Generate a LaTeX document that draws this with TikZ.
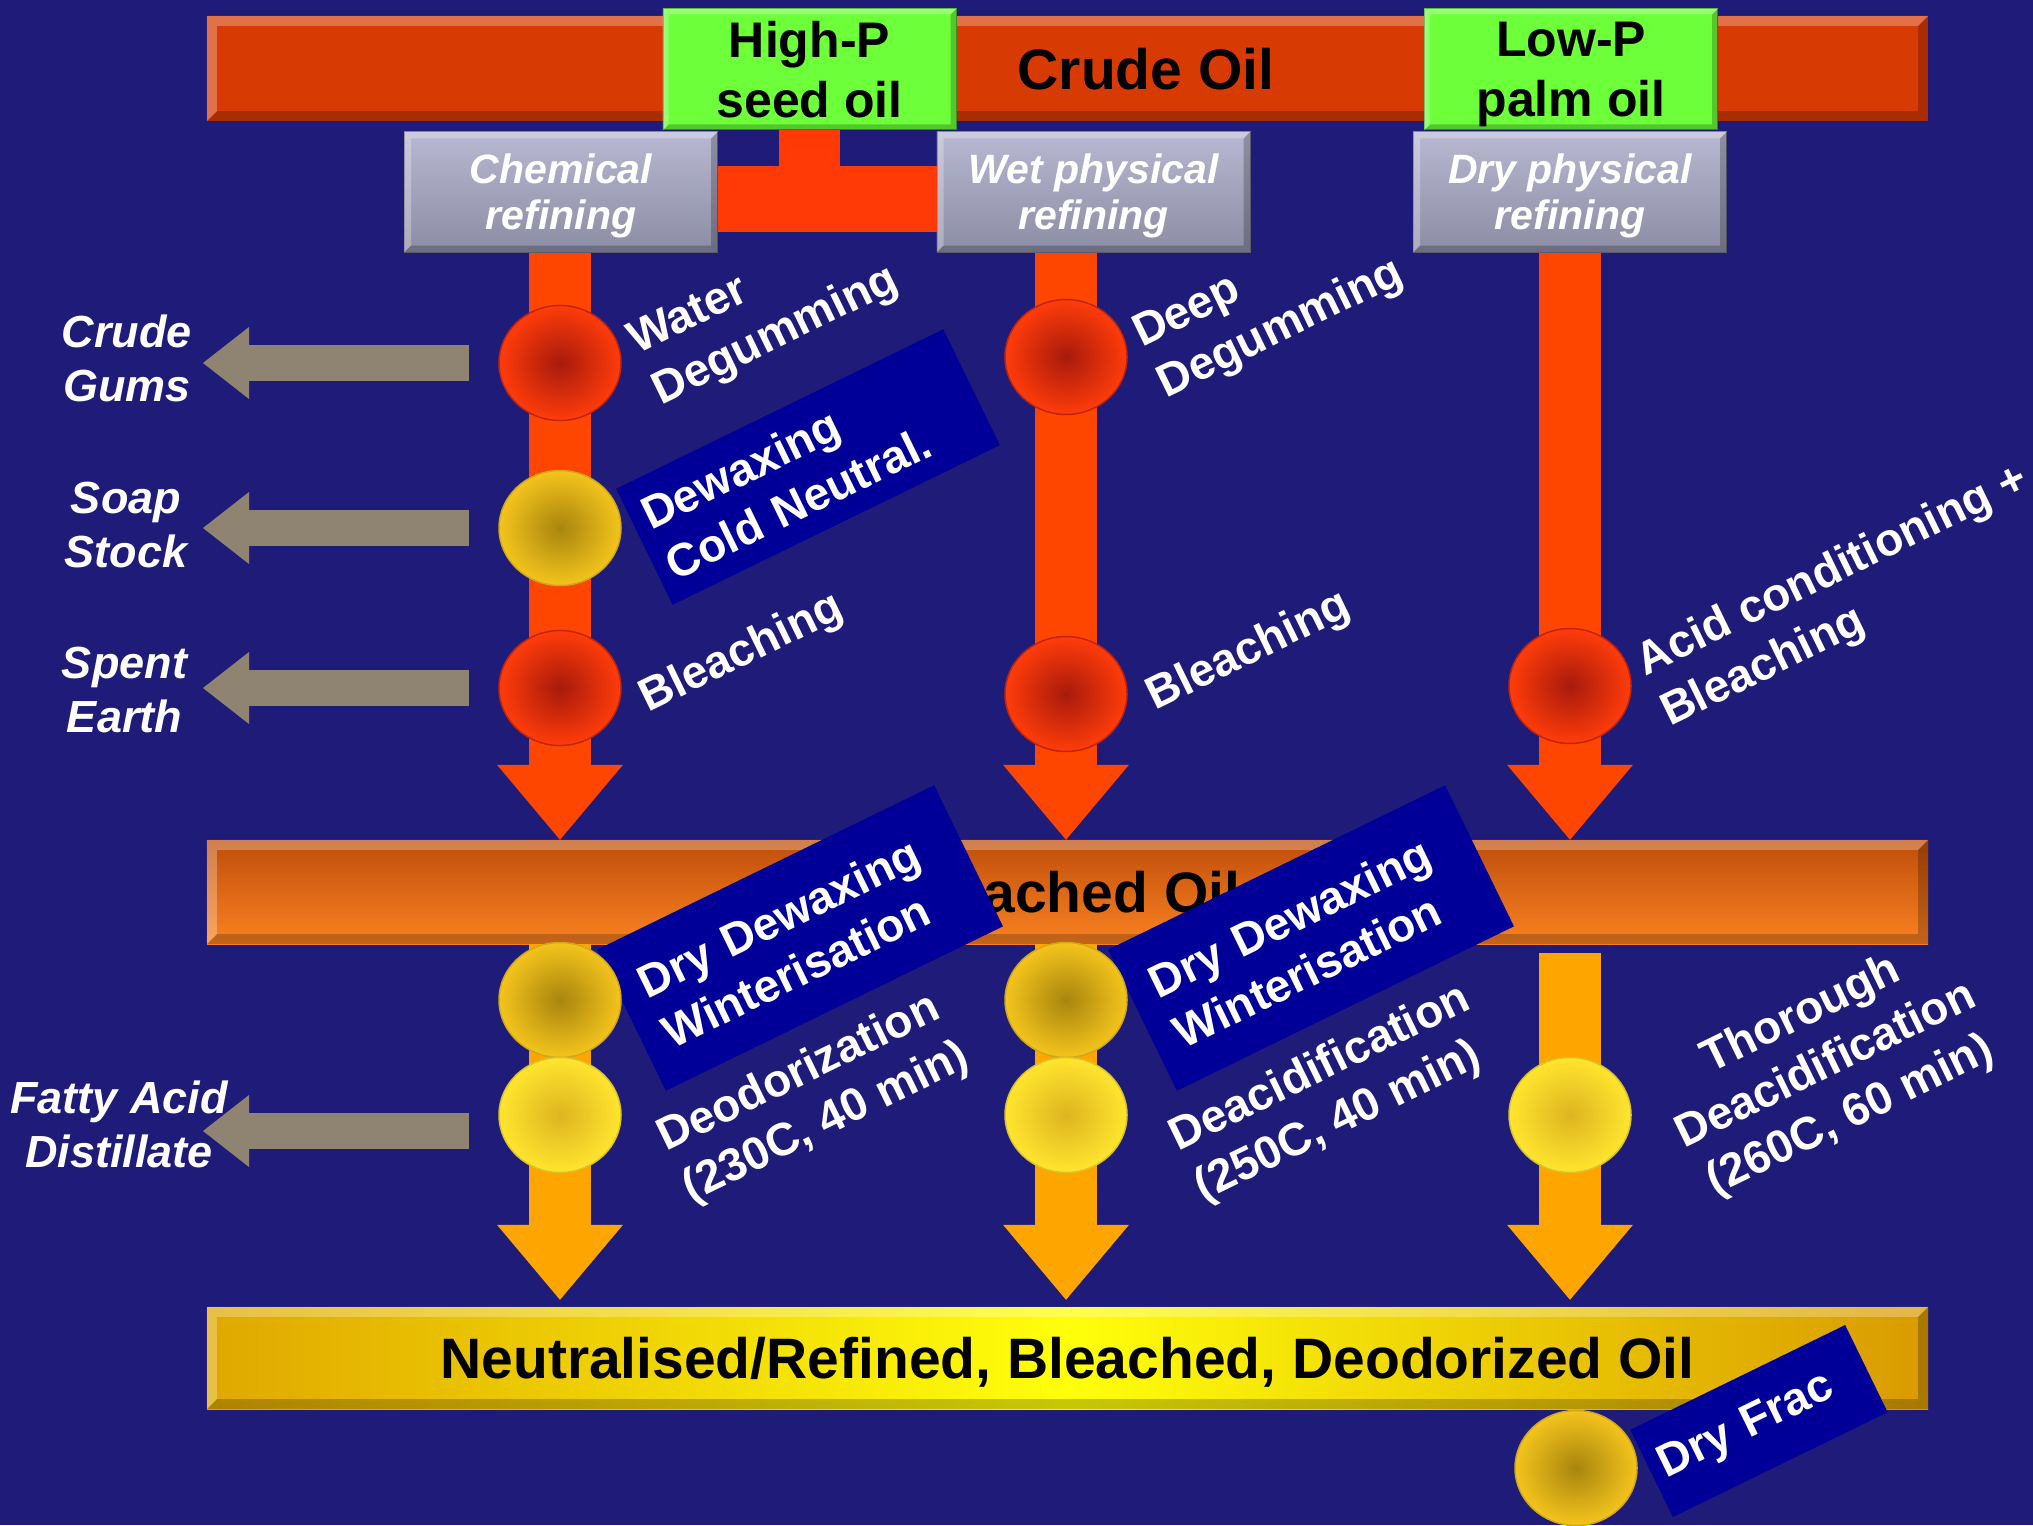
\documentclass[tikz,border=0pt]{standalone}
\usepackage{fontspec}
\setmainfont{Liberation Sans}
\usetikzlibrary{shapes.geometric,arrows.meta}

\definecolor{bgnavy}{HTML}{1F1B78}
\definecolor{crudeorange}{HTML}{D83A04}
\definecolor{bleachtop}{HTML}{BF4E0B}
\definecolor{bleachbot}{HTML}{FA8222}
\definecolor{neutedge}{HTML}{E0A800}
\definecolor{neutrim}{HTML}{D99A00}
\definecolor{neutmid}{HTML}{FFFF0A}
\definecolor{feedgreen}{HTML}{6CFF3A}
\definecolor{feedrim}{HTML}{3FA828}
\definecolor{greytop}{HTML}{B8B8D2}
\definecolor{greybot}{HTML}{8C8CA4}
\definecolor{greyrim}{HTML}{6A6A80}
\definecolor{flowred}{HTML}{FF4600}
\definecolor{flowamber}{HTML}{FFA500}
\definecolor{linkred}{HTML}{FF3A06}
\definecolor{procblue}{HTML}{000099}
\definecolor{draingrey}{HTML}{8F8472}
\definecolor{drainhi}{HTML}{C2B6A3}
\definecolor{redcore}{HTML}{A81A0C}
\definecolor{redrim}{HTML}{FF3C0A}
\definecolor{goldcore}{HTML}{A8850E}
\definecolor{goldrim}{HTML}{F4C41C}
\definecolor{yellowcore}{HTML}{DDB520}
\definecolor{yellowrim}{HTML}{FFE52E}

\tikzset{
  barlabel/.style={inner sep=0pt, text depth=0pt, font=\fontsize{57}{62}\selectfont\bfseries},
  oilbar/.style={barlabel, minimum width=1721pt},
  feedbox/.style={fill=feedgreen, draw=feedrim, line width=1pt, minimum width=293pt,
    minimum height=121pt, inner sep=0pt, text depth=0pt, align=center,
    font=\fontsize{50}{60}\selectfont\bfseries},
  routebox/.style={top color=greytop, bottom color=greybot, draw=greyrim, line width=1pt,
    minimum width=313pt, minimum height=120pt, inner sep=0pt, text depth=0pt, align=center,
    text=white, font=\fontsize{41}{46}\selectfont\bfseries\itshape},
  feedlink/.style={draw=linkred},
  flowdown/.style={line width=62pt, draw=flowred,
    -{Triangle[length=75pt,width=126pt,line width=0pt]}},
  flowlow/.style={flowdown, draw=flowamber, shorten >=7pt},
  drain/.style={line width=36pt, draw=draingrey,
    -{Triangle[length=46pt,width=72pt,line width=0pt]}},
  stage/.style={ellipse, minimum width=122pt, minimum height=115pt, inner sep=0pt, line width=1.5pt},
  redstage/.style={stage, inner color=redcore, outer color=redrim, draw=redcore!70!redrim},
  goldstage/.style={stage, inner color=goldcore, outer color=goldrim, draw=goldrim!85!black},
  yellowstage/.style={stage, inner color=yellowcore, outer color=yellowrim, draw=yellowrim!85!black},
  proclabel/.style={text=white, rotate=26, inner sep=0pt, align=left,
    font=\fontsize{46}{56}\selectfont\bfseries},
  procbox/.style={proclabel, fill=procblue},
  sidelabel/.style={text=white, align=center, inner sep=0pt,
    font=\fontsize{45}{54}\selectfont\bfseries\itshape}
}

\begin{document}
\begin{tikzpicture}[x=1pt,y=-1pt]
\useasboundingbox (0,0) rectangle (2033,1525);
\fill[bgnavy] (0,0) rectangle (2033,1525);

% column axes
\coordinate (c1) at (560,0);
\coordinate (c2) at (1066,0);
\coordinate (c3) at (1570,0);

% oil bars
\node[oilbar, fill=crudeorange, minimum height=105pt] (crude) at (1067.5,68.5) {};
\node[oilbar, top color=bleachtop, bottom color=bleachbot, minimum height=104pt] (bleached) at (1067.5,892) {Bleached Oil};
\node[oilbar, left color=neutedge, right color=neutrim, middle color=neutmid, minimum height=102pt] (neutral) at (1067.5,1358) {Neutralised/Refined, Bleached, Deodorized Oil};
\foreach \nm/\bev in {crude/10, bleached/10, neutral/10} {
  \fill[white, fill opacity=.28] (\nm.north west) -- (\nm.north east) -- ([shift={(-\bev,\bev)}]\nm.north east)
    -- ([shift={(\bev,\bev)}]\nm.north west) -- ([shift={(\bev,-\bev)}]\nm.south west) -- (\nm.south west) -- cycle;
  \fill[black, fill opacity=.22] (\nm.south west) -- (\nm.south east) -- (\nm.north east) -- ([shift={(-\bev,\bev)}]\nm.north east)
    -- ([shift={(-\bev,-\bev)}]\nm.south east) -- ([shift={(\bev,-\bev)}]\nm.south west) -- cycle;
}
\node[barlabel] (crudetxt) at (1146,68.7) {Crude Oil};

% feed and route boxes
\node[feedbox] (highp) at (809.5,69.5) {High-P\\seed oil};
\node[feedbox] (lowp) at (1571,69.5) {Low-P\\palm oil};
\node[routebox] (chem) at (561,192) {Chemical\\refining};
\node[routebox] (wet) at (1093.5,192) {Wet physical\\refining};
\node[routebox] (dry) at (1570,192) {Dry physical\\refining};
\foreach \nm/\bev in {highp/6, lowp/6, chem/7, wet/7, dry/7} {
  \fill[white, fill opacity=.28] (\nm.north west) -- (\nm.north east) -- ([shift={(-\bev,\bev)}]\nm.north east)
    -- ([shift={(\bev,\bev)}]\nm.north west) -- ([shift={(\bev,-\bev)}]\nm.south west) -- (\nm.south west) -- cycle;
  \fill[black, fill opacity=.22] (\nm.south west) -- (\nm.south east) -- (\nm.north east) -- ([shift={(-\bev,\bev)}]\nm.north east)
    -- ([shift={(-\bev,-\bev)}]\nm.south east) -- ([shift={(\bev,-\bev)}]\nm.south west) -- cycle;
}

% high-P feed to chemical and wet refining
\draw[feedlink, line width=61pt] (highp.south) -- (highp.south |- chem.east);
\draw[feedlink, line width=65pt] ([yshift=-7pt]chem.east) -- ([yshift=-7pt]wet.west);

% main flows
\foreach \c/\src in {c1/chem, c2/wet, c3/dry}
  \draw[flowdown] (\c |- \src.south) -- (\c |- bleached.north);
\draw[flowlow] (c1 |- bleached.south) -- (c1 |- neutral.north);
\draw[flowlow] (c2 |- bleached.south) -- (c2 |- neutral.north);
\draw[flowlow] ([yshift=-9pt]c3 |- bleached.south) -- (c3 |- neutral.north);

% optional steps
\node[procbox, text width=338pt, inner xsep=13pt, minimum height=129pt] (coldneut) at (808,467) {Dewaxing\\Cold Neutral.};
\node[procbox, text width=327pt, inner xsep=24pt, minimum height=157pt] (wint1) at (800,938) {Dry Dewaxing\\Winterisation};
\node[procbox, text width=327pt, inner xsep=24pt, minimum height=157pt] (wint2) at (1311,938) {Dry Dewaxing\\Winterisation};
\node[procbox, text width=217pt, inner xsep=11pt, minimum height=97pt] (dryfrac) at (1759,1421) {Dry Frac};

% stages
\node[redstage] (wd) at (560,363) {};
\node[goldstage] (cn) at (560,528) {};
\node[redstage] (bl1) at (560,688) {};
\node[redstage] (dg) at (1066,357) {};
\node[redstage] (bl2) at (1066,694) {};
\node[redstage] (bl3) at (1570,686) {};
\node[goldstage] (dw1) at (560,1000) {};
\node[yellowstage] (deo) at (560,1115) {};
\node[goldstage] (dw2) at (1066,1000) {};
\node[yellowstage] (dac) at (1066,1115) {};
\node[yellowstage] (tdac) at (1570,1115) {};
\node[goldstage] (frac) at (1576,1468) {};

% by-products
\coordinate (gumtip) at (203,363);
\coordinate (soaptip) at (203,528);
\coordinate (earthtip) at (203,688);
\coordinate (fadtip) at (203,1131);
\draw[drain] ([xshift=-29pt]wd.west) -- (gumtip);
\draw[drain] ([xshift=-29pt]cn.west) -- (soaptip);
\draw[drain] ([xshift=-29pt]bl1.west) -- (earthtip);
\draw[drain] ([shift={(-29,16)}]deo.west) -- (fadtip);
\node[sidelabel] (gums) at (127,358) {Crude\\Gums};
\node[sidelabel] (soap) at (126,525) {Soap\\Stock};
\node[sidelabel] (earth) at (124.5,690) {Spent\\Earth};
\node[sidelabel] (fad) at (119,1124) {Fatty Acid\\Distillate};

% stage labels
\node[proclabel] (wdlab) at (764,312) {Water\\Degumming};
\node[proclabel] (dglab) at (1269,305) {Deep\\Degumming};
\node[proclabel, anchor=base west] (bl1lab) at (648,713) {Bleaching};
\node[proclabel, anchor=base west] (bl2lab) at (1155,711) {Bleaching};
\node[proclabel] (bl3lab) at (1845,597) {Acid conditioning +\\Bleaching};
\node[proclabel] (deolab) at (814,1098) {Deodorization\\(230C, 40 min)};
\node[proclabel] (daclab) at (1333,1094) {Deacidification\\(250C, 40 min)};
\node[proclabel, align=center] (tdaclab) at (1826,1066) {Thorough\\Deacidification\\(260C, 60 min)};
\end{tikzpicture}
\end{document}
